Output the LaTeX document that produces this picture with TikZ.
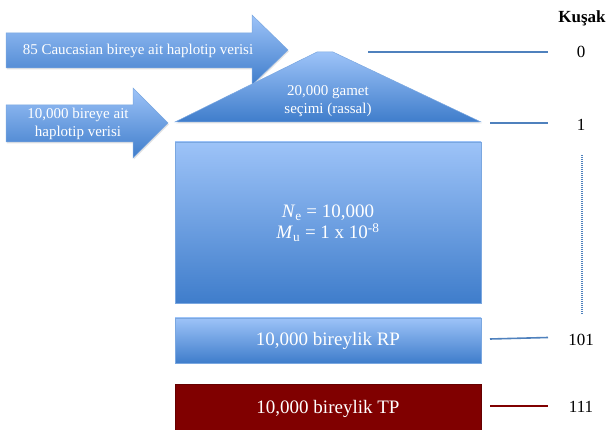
\documentclass[tikz,border=0pt]{standalone}
\usepackage{fontspec}
\setmainfont{Liberation Serif}
\usetikzlibrary{shadows}
\definecolor{bluetop}{HTML}{9DC3F8}
\definecolor{bluebot}{HTML}{3F7DCB}
\definecolor{blueedge}{HTML}{7AA7E0}
\definecolor{lineblue}{HTML}{4F81BD}
\definecolor{darkred}{HTML}{800000}
\begin{document}
\begin{tikzpicture}[x=1pt,y=-1pt,
  bluefill/.style={top color=bluetop,bottom color=bluebot,draw=blueedge,line width=0.5pt,
    drop shadow={opacity=0.22,shadow xshift=0.8pt,shadow yshift=-1.5pt}},
  boxlabel/.style={text=white,align=center,inner sep=0pt},
  smalltext/.style={boxlabel,font=\fontsize{15}{18.5}\selectfont},
  bigtext/.style={boxlabel,font=\fontsize{19}{21}\selectfont},
  gen/.style={inner sep=0pt,font=\fontsize{17}{20}\selectfont},
  genline/.style={line width=1.6pt,lineblue},
  popbox/.style={bluefill,minimum width=306pt,inner sep=0pt,outer sep=0pt}]
\useasboundingbox (0,0) rectangle (611,430);
% arrows
\path[bluefill] (6,33) -- (252,33) -- (252,15) -- (288,50) -- (252,85) -- (252,68) -- (6,68) -- cycle;
\node[smalltext] (a1) at (138,51) {85 Caucasian bireye ait haplotip verisi};
\path[bluefill] (6,105) -- (133,105) -- (133,88) -- (168,123) -- (133,158) -- (133,142) -- (6,142) -- cycle;
\node[smalltext] (a2) at (78,124) {10,000 bireye ait\\haplotip verisi};
% triangle
\path[bluefill] (175,122) -- (317,52) -- (333,52) -- (481,122) -- cycle;
\node[smalltext] (tri) at (328,101) {20,000 gamet\\seçimi (rassal)};
% boxes
\node[popbox,minimum height=161pt] (pop) at (328,222.5) {};
\node[bigtext] (poptext) at (328,223) {\textit{N}\textsubscript{e} = 10,000\\\textit{M}\textsubscript{u} = 1 x 10\textsuperscript{-8}};
\node[popbox,minimum height=45pt] (rp) at (328,340.5) {};
\node[bigtext] (rptext) at (328,341) {10,000 bireylik RP};
\node[fill=darkred,draw=darkred!80!black,line width=0.5pt,minimum width=306pt,minimum height=48pt,inner sep=0pt,outer sep=0pt,
  drop shadow={opacity=0.22,shadow xshift=0.8pt,shadow yshift=-1.5pt}] (tp) at (328,408) {};
\node[bigtext] (tptext) at (328,409) {10,000 bireylik TP};
% generation labels
\node[gen,font=\fontsize{17}{20}\selectfont\bfseries] (kusak) at (582,18) {Kuşak};
\node[gen] (g0) at (581,52) {0};
\node[gen] (g1) at (581,125) {1};
\node[gen] (g101) at (581,340) {101};
\node[gen] (g111) at (581,407) {111};
\coordinate (l0a) at (368,52); \coordinate (l0b) at (548,52);
\coordinate (l1a) at (490,123); \coordinate (l1b) at (548,123);
\coordinate (l101a) at (490,339); \coordinate (l101b) at (548,337.5);
\coordinate (l111a) at (490,406); \coordinate (l111b) at (548,406);
\coordinate (dta) at (582,155); \coordinate (dtb) at (582,315);
\draw[genline] (l0a) -- (l0b);
\draw[genline] (l1a) -- (l1b);
\draw[genline] (l101a) -- (l101b);
\draw[genline,darkred] (l111a) -- (l111b);
\draw[lineblue,line width=1.6pt,dash pattern=on 1pt off 1pt] (dta) -- (dtb);
\end{tikzpicture}
\end{document}
